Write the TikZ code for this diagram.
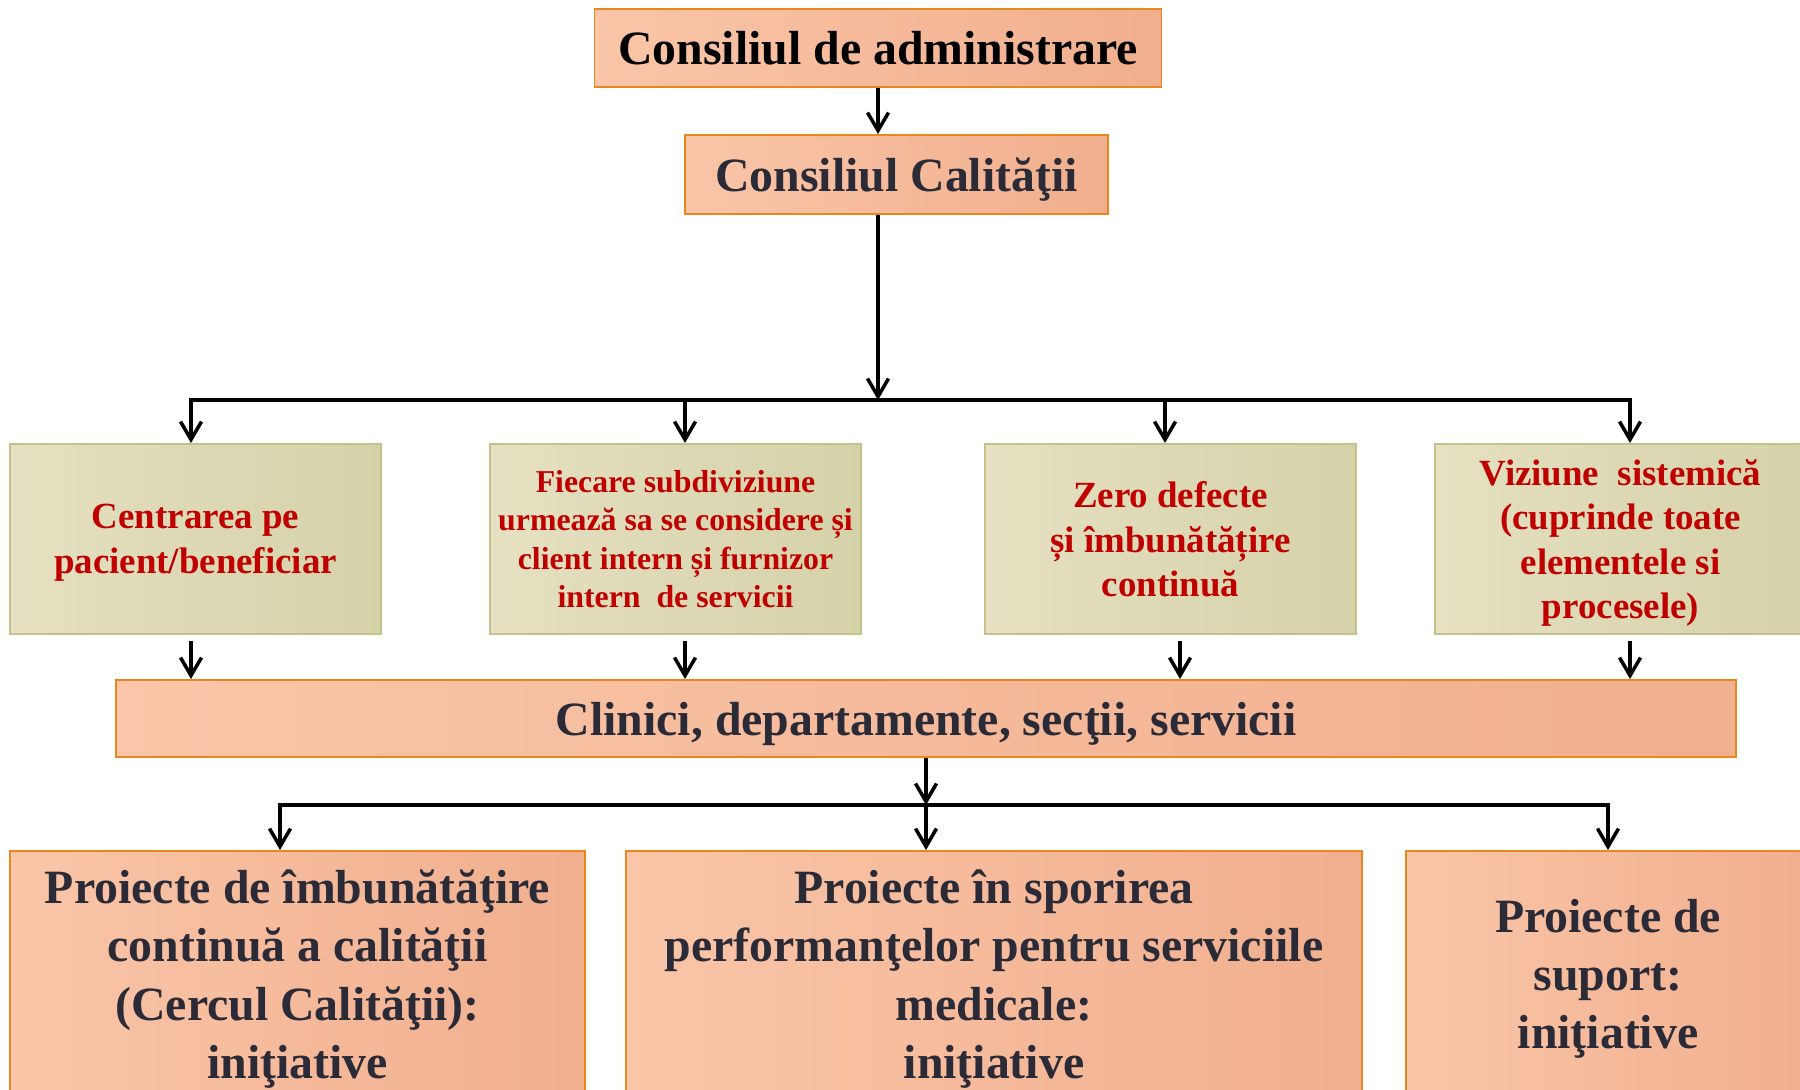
\documentclass[tikz,border=0pt]{standalone}
\usepackage{fontspec}
\setmainfont{Liberation Serif}
\usetikzlibrary{arrows.meta}
\definecolor{orline}{HTML}{E8871E}
\definecolor{peachA}{HTML}{FAC5A8}
\definecolor{peachB}{HTML}{F0AF8E}
\definecolor{khakiA}{HTML}{E5E1C2}
\definecolor{khakiB}{HTML}{D5D1A8}
\definecolor{khline}{HTML}{C6C18A}
\definecolor{redtxt}{HTML}{C00000}
\definecolor{navytxt}{HTML}{2B2B38}
\begin{document}
\begin{tikzpicture}[node distance=20mm,line width=2pt,
>={Straight Barb[length=0.36cm,width=0.42cm]},
unit/.style={
rectangle,
draw=orline,
line width=1.1pt,
left color=peachA,
right color=peachB,
text=navytxt,
font=\bfseries\fontsize{27.2}{33.2}\selectfont,
align=center,
text depth=0pt,
inner sep=0pt
},
idea/.style={
rectangle,
draw=khline,
line width=1.1pt,
left color=khakiA,
right color=khakiB,
text=redtxt,
font=\bfseries\fontsize{21}{25.4}\selectfont,
align=center,
text depth=0pt,
minimum width=7.42cm,
minimum height=3.8cm,
inner sep=0pt
},
]
\useasboundingbox (0,0) rectangle (36,-21.78);
\clip (0,0) rectangle (36,-21.78);

\node (admin) [unit,text=black,minimum width=11.34cm,minimum height=1.56cm] at (17.56,-0.96) {Consiliul de administrare};
\node (calit) [unit,below of=admin,node distance=2.53cm,xshift=0.37cm,minimum width=8.46cm,minimum height=1.58cm] {Consiliul Calităţii};

\node (g1) [idea] at (3.91,-10.78) {Centrarea pe\\pacient/beneficiar};
\node (g2) [idea,right of=g1,node distance=9.6cm,font=\bfseries\fontsize{18.1}{21.7}\selectfont] {Fiecare subdiviziune\\urmează sa se considere și\\client intern și furnizor\\intern\ \ de servicii};
\node (g3) [idea,right of=g2,node distance=9.9cm] {Zero defecte\\și îmbunătățire\\continuă};
\node (g4) [idea,right of=g3,node distance=9.0cm] {Viziune\ \ sistemică\\(cuprinde toate\\elementele si\\procesele)};

\node (clin) [unit,minimum width=32.4cm,minimum height=1.54cm] at (18.52,-14.37) {Clinici, departamente, secţii, servicii};

\node (b1) [unit,minimum width=11.5cm,minimum height=4.92cm] at (5.95,-19.48) {Proiecte de îmbunătăţire\\continuă a calităţii\\(Cercul Calităţii):\\iniţiative};
\node (b2) [unit,right of=b1,node distance=13.93cm,minimum width=14.72cm,minimum height=4.92cm] {Proiecte în sporirea\\performanţelor pentru serviciile\\medicale:\\iniţiative};
\node (b3) [unit,right of=b2,node distance=12.28cm,minimum width=8.08cm,minimum height=4.92cm] {Proiecte de\\suport:\\iniţiative};

\coordinate (bus) at (17.56,-8);
\coordinate (bus2) at (18.52,-16.1);

\draw[->] (admin) -- (calit.north -| admin);
\draw[->] (calit.south -| admin) -- (bus);
\foreach \g/\s in {g1/-0.09,g2/0.19,g3/-0.11,g4/0.19}
\draw[->] (bus) -| ([xshift=\s cm]\g.north);
\foreach \g/\s in {g1/-0.09,g2/0.19,g3/0.19,g4/0.19}
\draw[->] ([xshift=\s cm,yshift=-0.12cm]\g.south) -- ([xshift=\s cm]\g.south |- clin.north);
\draw[->] (clin) -- (bus2);
\draw[->] (bus2) -| ([xshift=-0.35cm]b1.north);
\draw[->] (bus2) -- (bus2 |- b2.north);
\draw[->] (bus2) -| (b3.north);
\end{tikzpicture}
\end{document}
